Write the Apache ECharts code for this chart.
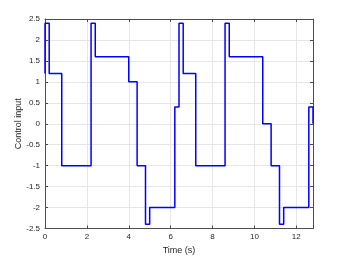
<!DOCTYPE html>
<html><head><meta charset="utf-8">
<script src="https://cdn.jsdelivr.net/npm/echarts@6/dist/echarts.min.js"></script>
<style>html,body{margin:0;padding:0;background:#fff}#c{width:346px;height:260px}</style>
</head><body><div id="c"></div>
<script>
var switchTimes = [0, 0, 0.2, 0.8, 2.2, 2.4, 4.0, 4.4, 4.8, 5.0, 6.2, 6.4, 6.6, 7.2, 8.6, 8.8, 10.4, 10.8, 11.2, 11.4, 12.6, 12.8];
var controlValues = [1.2, 2.4, 1.2, -1, 2.4, 1.6, 1.0, -1, -2.4, -2, 0.4, 2.4, 1.2, -1, 2.4, 1.6, 0, -1, -2.4, -2, 0.4, 0];
var xLabel = 'Time (s)';
var yLabel = 'Control input';

var data = switchTimes.map(function (t, i) { return [t, controlValues[i]]; });
var axisColor = '#4d4d4d';
var labelColor = '#262626';
var font = 'Liberation Sans, Arial, sans-serif';

var chart = echarts.init(document.getElementById('c'), null, {renderer: 'canvas'});
chart.setOption({
  animation: false,
  grid: {left: 45, right: 33, top: 19, bottom: 29, containLabel: false},
  xAxis: [{
    type: 'value', min: 0, max: 12.8, interval: 2, position: 'bottom',
    name: xLabel, nameLocation: 'middle', nameGap: 22, nameMoveOverlap: false,
    nameTextStyle: {color: labelColor, fontSize: 9, fontFamily: font, verticalAlign: 'middle'},
    axisLine: {show: true, onZero: false, lineStyle: {color: axisColor, width: 1}},
    axisTick: {show: true, inside: true, length: 3, lineStyle: {color: axisColor}},
    axisLabel: {color: labelColor, fontSize: 8, fontFamily: font, margin: 4, showMaxLabel: false},
    splitLine: {show: true, lineStyle: {color: '#e6e6e6', width: 1}}
  }, {
    type: 'value', min: 0, max: 12.8, interval: 2, position: 'top',
    axisLine: {show: true, onZero: false, lineStyle: {color: axisColor, width: 1}},
    axisTick: {show: true, inside: true, length: 3, lineStyle: {color: axisColor}},
    axisLabel: {show: false}, splitLine: {show: false}
  }],
  yAxis: [{
    type: 'value', min: -2.5, max: 2.5, interval: 0.5, position: 'left',
    name: yLabel, nameLocation: 'middle', nameGap: 26, nameRotate: 90, nameMoveOverlap: false,
    nameTextStyle: {color: labelColor, fontSize: 9, fontFamily: font, verticalAlign: 'middle'},
    axisLine: {show: true, onZero: false, lineStyle: {color: axisColor, width: 1}},
    axisTick: {show: true, inside: true, length: 3, lineStyle: {color: axisColor}},
    axisLabel: {color: labelColor, fontSize: 8, fontFamily: font, margin: 5},
    splitLine: {show: true, lineStyle: {color: '#e6e6e6', width: 1}}
  }, {
    type: 'value', min: -2.5, max: 2.5, interval: 0.5, position: 'right',
    axisLine: {show: true, onZero: false, lineStyle: {color: axisColor, width: 1}},
    axisTick: {show: true, inside: true, length: 3, lineStyle: {color: axisColor}},
    axisLabel: {show: false}, splitLine: {show: false}
  }],
  series: [{
    type: 'line', step: 'end', data: data, xAxisIndex: 0, yAxisIndex: 0,
    showSymbol: false, symbol: 'none', clip: false, z: 5,
    lineStyle: {color: '#0000ff', width: 1.5}
  }]
});
</script></body></html>
